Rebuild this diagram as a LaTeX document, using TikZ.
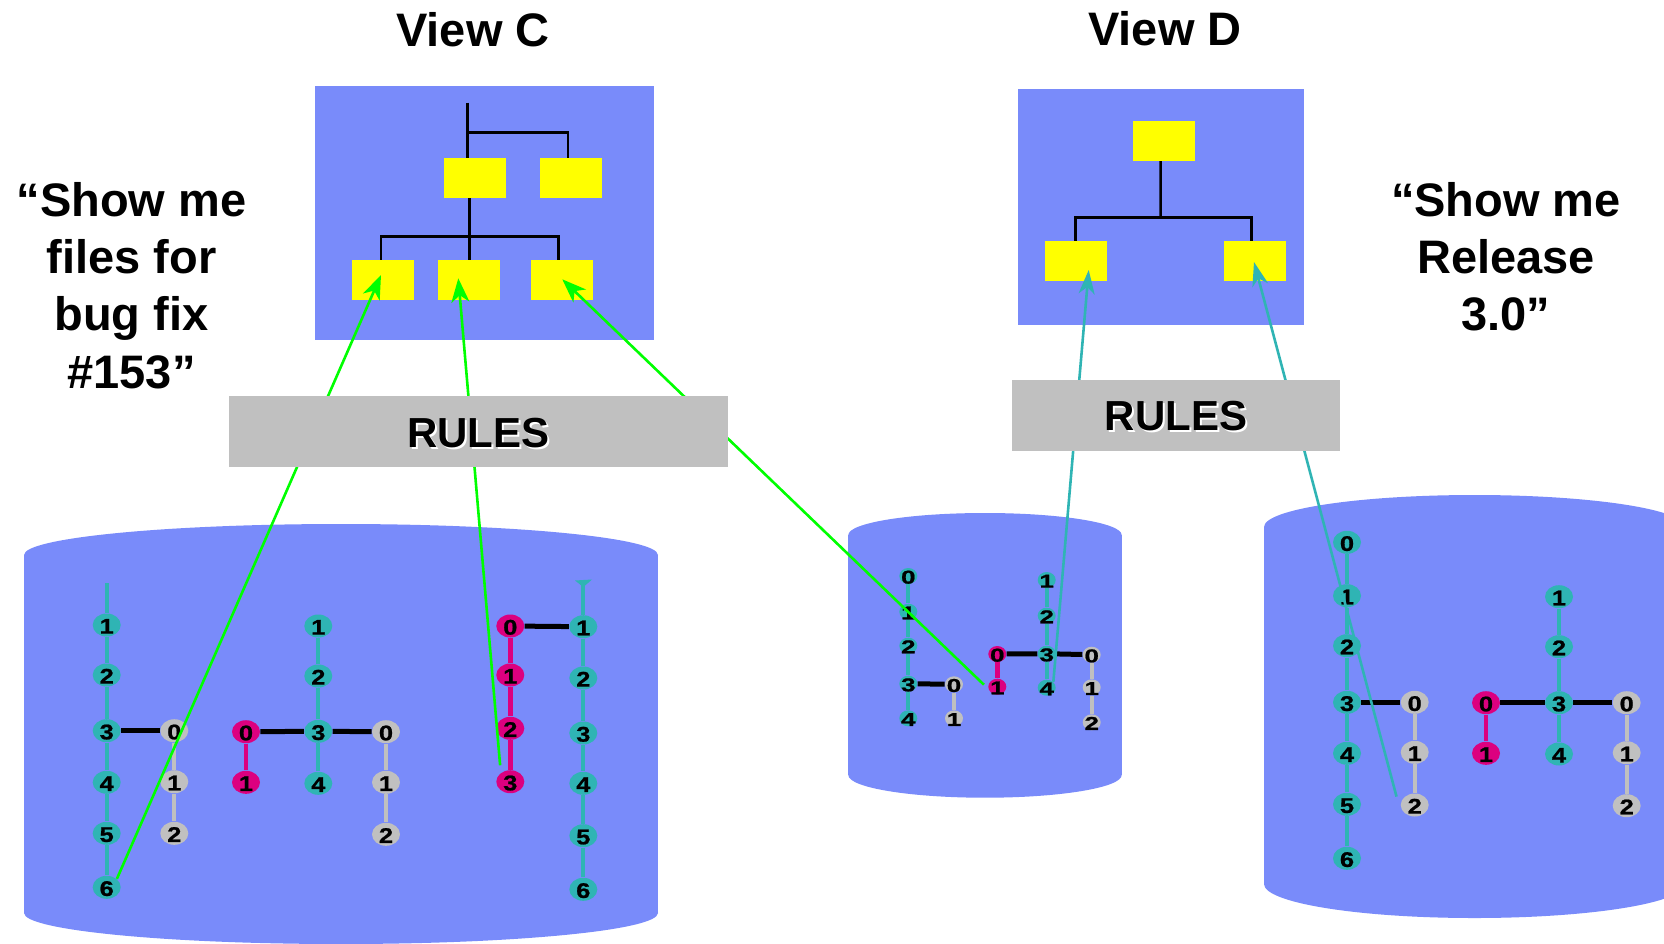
\documentclass[tikz,border=0pt]{standalone}
\usepackage{fontspec}
\setmainfont{Liberation Sans}
\newfontfamily\digfont[FakeStretch=1.2,FakeBold=1]{Liberation Sans}
\newfontfamily\digfontw[FakeStretch=1.4,FakeBold=1]{Liberation Sans}
\usetikzlibrary{shapes.geometric,arrows.meta}
\definecolor{blu}{RGB}{121,139,250}
\definecolor{tealc}{RGB}{47,180,180}
\definecolor{pinkc}{RGB}{220,0,127}
\definecolor{grayc}{RGB}{192,192,192}
\definecolor{yel}{RGB}{255,255,0}
\definecolor{grn}{RGB}{0,255,0}
\pgfdeclarelayer{back}
\pgfdeclarelayer{mid}
\pgfsetlayers{back,mid,main}
\begin{document}
\begin{tikzpicture}[x=0.5pt,y=-0.5pt,
  bn/.style={ellipse,inner sep=-3pt,minimum width=14pt,minimum height=11.5pt,text height=8.6pt,text depth=0pt,font=\digfont\bfseries\fontsize{10.6}{10.6}\selectfont},
  sn/.style={ellipse,inner sep=-3pt,minimum width=9pt,minimum height=8pt,text height=7.6pt,text depth=0pt,font=\digfontw\bfseries\fontsize{9.3}{9.3}\selectfont},
  tn/.style={fill=tealc}, pn/.style={fill=pinkc}, gn/.style={fill=grayc},
  tl/.style={draw=tealc,line width=2.1pt},
  pl/.style={draw=pinkc,line width=2.4pt},
  gl/.style={draw=grayc,line width=2.1pt},
  kl/.style={draw=black,line width=2.5pt},
  ybox/.style={fill=yel,inner sep=0pt,minimum width=31pt,minimum height=19.8pt},
  tree/.style={draw=black,line width=1.25pt},
  garr/.style={draw=grn,line width=1.3pt,-{Stealth[length=12pt,width=9pt,inset=3.5pt]}},
  carr/.style={draw=tealc,line width=1.3pt,-{Stealth[length=12pt,width=8pt,inset=3.5pt]}},
  rulesbox/.style={fill=grayc,inner sep=0pt},
  rtext/.style={font=\bfseries\fontsize{21}{21}\selectfont,inner sep=0pt},
  ttl/.style={font=\bfseries\fontsize{23.5}{28}\selectfont,inner sep=0pt},
  big/.style={font=\bfseries\fontsize{23.5}{28.7}\selectfont,inner sep=0pt},
]
\useasboundingbox (0,0) rectangle (1664,943);
\clip (0,0) rectangle (1664,943);

% ---------- cylinders ----------
\begin{pgfonlayer}{back}
\fill[blu] (24,555) rectangle (658,913);
\fill[blu] (341,555) ellipse [x radius=317, y radius=31];
\fill[blu] (341,913) ellipse [x radius=317, y radius=31];
\fill[blu] (848.3,535) rectangle (1121.7,775);
\fill[blu] (985,535) ellipse [x radius=136.7, y radius=22];
\fill[blu] (985,775) ellipse [x radius=136.7, y radius=22.7];
\fill[blu] (1264,527) rectangle (1685,884);
\fill[blu] (1474.5,527) ellipse [x radius=210.5, y radius=32];
\fill[blu] (1474.5,884) ellipse [x radius=210.5, y radius=34];
\end{pgfonlayer}

% ---------- big cylinder (View C) ----------
\foreach \n/\y in {1/625,2/675,3/730.7,4/782.3,5/833.3,6/887.3}
  \node[bn,tn] (L\n) at (106.7,\y) {\n};
\foreach \n/\y in {0/730.7,1/781.7,2/833.3}
  \node[bn,gn] (G\n) at (174.3,\y) {\n};
\foreach \n/\y in {0/731.7,1/782.3}
  \node[bn,pn] (Pa\n) at (246,\y) {\n};
\foreach \n/\y in {1/626,2/676,3/731.3,4/783.3}
  \node[bn,tn] (T\n) at (318.3,\y) {\n};
\foreach \n/\y in {0/731.7,1/782.3,2/834.3}
  \node[bn,gn] (H\n) at (386,\y) {\n};
\foreach \n/\y in {0/626,1/675,2/728.3,3/781.7}
  \node[bn,pn] (P\n) at (510.3,\y) {\n};
\foreach \n/\y in {1/626.7,2/678,3/733,4/783.3,5/835.7,6/889.3}
  \node[bn,tn] (R\n) at (583.3,\y) {\n};
\coordinate (Ltop) at (106.7,583.3);
\coordinate (Rtop) at (583.3,583);

% ---------- middle cylinder ----------
\foreach \n/\y in {0/576,1/611.7,2/645.7,3/683.7,4/718.3}
  \node[sn,tn] (MA\n) at (908.3,\y) {\n};
\foreach \n/\y in {0/684.3,1/718.3}
  \node[sn,gn] (MB\n) at (954,\y) {\n};
\foreach \n/\y in {0/654,1/686.7}
  \node[sn,pn] (MP\n) at (997.3,\y) {\n};
\foreach \n/\y in {1/580,2/615.7,3/653.7,4/687.7}
  \node[sn,tn] (MT\n) at (1046.7,\y) {\n};
\foreach \n/\y in {0/654.7,1/687.3,2/722.3}
  \node[sn,gn] (ME\n) at (1091.7,\y) {\n};

% ---------- right cylinder ----------
\foreach \n/\y in {0/542.3,1/595.7,2/645.7,3/702.3,4/753.3,5/804.3,6/858.3}
  \node[bn,tn] (NA\n) at (1347,\y) {\n};
\foreach \n/\y in {0/702.3,1/752.3,2/805}
  \node[bn,gn] (NB\n) at (1414.7,\y) {\n};
\foreach \n/\y in {0/702.7,1/753.3}
  \node[bn,pn] (NP\n) at (1486,\y) {\n};
\foreach \n/\y in {1/596.7,2/646.7,3/702.7,4/754}
  \node[bn,tn] (NT\n) at (1559,\y) {\n};
\foreach \n/\y in {0/702.7,1/752.7,2/805.7}
  \node[bn,gn] (NE\n) at (1626.7,\y) {\n};

% ---------- graph edges (under the nodes) ----------
\begin{pgfonlayer}{mid}
\foreach \a/\b in {Ltop/L1,L1/L2,L2/L3,L3/L4,L4/L5,L5/L6,T1/T2,T2/T3,T3/T4,Rtop/R1,R1/R2,R2/R3,R3/R4,R4/R5,R5/R6,
  MA0/MA1,MA1/MA2,MA2/MA3,MA3/MA4,MT1/MT2,MT2/MT3,MT3/MT4,
  NA0/NA1,NA1/NA2,NA2/NA3,NA3/NA4,NA4/NA5,NA5/NA6,NT1/NT2,NT2/NT3,NT3/NT4}
  \draw[tl] (\a) -- (\b);
\fill[tealc] (575,580.5) -- (592,579.5) -- (583.3,587) -- cycle;
\foreach \a/\b in {G0/G1,G1/G2,H0/H1,H1/H2,MB0/MB1,ME0/ME1,ME1/ME2,NB0/NB1,NB1/NB2,NE0/NE1,NE1/NE2}
  \draw[gl] (\a) -- (\b);
\foreach \a/\b in {Pa0/Pa1,P0/P1,P1/P2,P2/P3,MP0/MP1,NP0/NP1}
  \draw[pl] (\a) -- (\b);
\foreach \a/\b in {L3/G0,Pa0/T3,T3/H0,P0/R1,MA3/MB0,MP0/MT3,MT3/ME0,NA3/NB0,NP0/NT3,NT3/NE0}
  \draw[kl] (\a) -- (\b);
\end{pgfonlayer}

% ---------- View C ----------
\fill[blu] (315.3,85.7) rectangle (654.3,340);
\node[ybox] (yc1) at (474.5,178) {};
\node[ybox] (yc2) at (571,178) {};
\node[ybox] (ya) at (383,279.85) {};
\node[ybox] (yb) at (469,279.85) {};
\node[ybox] (yc) at (561.5,279.85) {};
\coordinate (rootC) at (467.7,102.7);
\coordinate (jC) at (467.7,132.7);
\coordinate (busC) at (469.3,236.7);
\draw[tree] (rootC) -- (rootC |- yc1.north);
\draw[tree] (jC) -| ([xshift=-1.6pt]yc2.north);
\draw[tree] ([xshift=-2.6pt]yc1.south) -- (busC);
\draw[tree] ([xshift=-1pt]ya.north) |- (busC) -| ([xshift=-1.6pt]yc.north);
\draw[tree] (busC) -- (busC |- yb.north);

% ---------- View D ----------
\fill[blu] (1017.7,89) rectangle (1304.3,325);
\node[ybox] (yd0) at (1164,140.85) {};
\node[ybox] (yd1) at (1076,260.85) {};
\node[ybox] (yd2) at (1255,260.85) {};
\coordinate (busD) at (1160.7,217.3);
\draw[tree] ([xshift=-1.65pt]yd0.south) -- (busD);
\draw[tree] ([xshift=-0.35pt]yd1.north) |- (busD) -| ([xshift=-1.65pt]yd2.north);

% ---------- connectors ----------
\coordinate (tipA) at (381,275);
\coordinate (tipB) at (458.3,278.3);
\coordinate (tipC) at (562.3,279.3);
\coordinate (tipD1) at (1088.7,270);
\coordinate (tipD2) at (1254,262);
\draw[garr] (L6.north east) -- (tipA);
\draw[garr] ([yshift=4pt]P3.north west) -- (tipB);
\draw[garr] ([xshift=-2pt,yshift=1pt]MP1.west) -- (tipC);
\draw[carr] (MT4.north east) -- (tipD1);
\draw[carr] ([xshift=-4pt]NB2.north west) -- (tipD2);

% ---------- RULES boxes ----------
\node[rulesbox, minimum width=249.35pt, minimum height=35.5pt] (rulesC) at (478.35,431.2) {};
\node[rtext, text=white] at ([xshift=1pt,yshift=-2pt]rulesC) {RULES};
\node[rtext] (rulesCt) at ([yshift=-1pt]rulesC) {RULES};
\node[rulesbox, minimum width=164pt, minimum height=35.35pt] (rulesD) at (1176,415.35) {};
\node[rtext, text=white] at ([xshift=1pt,yshift=-1.5pt]rulesD) {RULES};
\node[rtext] (rulesDt) at ([yshift=-0.5pt]rulesD) {RULES};

% ---------- titles and queries ----------
\node[ttl, anchor=base] (viewC) at (473,46.7) {View C};
\node[ttl, anchor=base] (viewD) at (1165,45.7) {View D};
\node[big, anchor=base] (qC) at (131.5,216) {\begin{tabular}[t]{@{}c@{}}“Show me\\files for\\bug fix\\\#153”\end{tabular}};
\node[big, anchor=base] (qD) at (1506,216) {\begin{tabular}[t]{@{}c@{}}“Show me\\Release\\3.0”\end{tabular}};
\end{tikzpicture}
\end{document}
